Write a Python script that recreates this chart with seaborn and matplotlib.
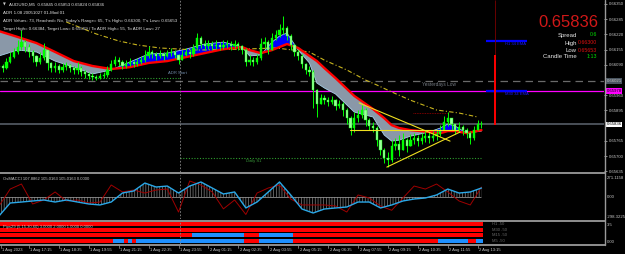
import matplotlib
matplotlib.use("Agg")
import numpy as np
import matplotlib.pyplot as plt
from matplotlib import font_manager as fm
from matplotlib.lines import Line2D
import seaborn as sns

# ---------------- data (prices in points: price * 1e5) ----------------
time_labels = ["1 Aug 2023", "1 Aug 17:15", "1 Aug 18:35", "1 Aug 19:55", "1 Aug 21:15",
               "1 Aug 22:35", "1 Aug 23:55", "2 Aug 01:15", "2 Aug 02:35", "2 Aug 03:55",
               "2 Aug 05:15", "2 Aug 06:35", "2 Aug 07:55", "2 Aug 09:15", "2 Aug 10:35",
               "2 Aug 11:55", "2 Aug 13:15"]
label_bars = list(range(0, 129, 8))

first_open = 66080
close_pts = [66085, 66076, 66102, 66123, 66145, 66166, 66187, 66166, 66145, 66128,
             66102, 66119, 66153, 66098, 66076, 66085, 66068, 66080, 66089, 66076,
             66068, 66076, 66059, 66051, 66042, 66038, 66033, 66042, 66046, 66068,
             66093, 66110, 66102, 66085, 66093, 66102, 66093, 66102, 66110, 66128,
             66145, 66136, 66128, 66136, 66128, 66140, 66145, 66132, 66110, 66132,
             66145, 66136, 66162, 66205, 66179, 66170, 66179, 66170, 66175, 66166,
             66175, 66179, 66170, 66179, 66170, 66153, 66102, 66110, 66102, 66119,
             66179, 66187, 66153, 66205, 66217, 66239, 66247, 66213, 66175, 66145,
             66128, 66093, 66068, 66059, 65982, 65922, 65948, 65939, 65931, 65939,
             65914, 65922, 65897, 65862, 65820, 65862, 65875, 65897, 65854, 65828,
             65820, 65768, 65726, 65691, 65683, 65743, 65751, 65726, 65768, 65743,
             65768, 65777, 65764, 65777, 65785, 65777, 65785, 65794, 65811, 65845,
             65862, 65837, 65811, 65824, 65811, 65798, 65777, 65811, 65837, 65836]
high_pts = [66110, 66093, 66119, 66145, 66162, 66196, 66239, 66196, 66179, 66153,
            66132, 66145, 66183, 66153, 66102, 66102, 66093, 66098, 66102, 66093,
            66085, 66102, 66085, 66068, 66059, 66055, 66046, 66055, 66059, 66085,
            66110, 66128, 66123, 66110, 66110, 66119, 66110, 66119, 66128, 66153,
            66170, 66153, 66145, 66153, 66145, 66153, 66162, 66153, 66136, 66153,
            66162, 66157, 66179, 66226, 66213, 66196, 66196, 66192, 66196, 66187,
            66196, 66196, 66192, 66196, 66187, 66175, 66162, 66132, 66123, 66136,
            66205, 66209, 66196, 66226, 66239, 66264, 66300, 66256, 66222, 66179,
            66153, 66136, 66098, 66085, 66068, 65986, 65965, 65961, 65952, 65957,
            65944, 65939, 65931, 65905, 65871, 65888, 65897, 65918, 65905, 65862,
            65845, 65828, 65768, 65734, 65717, 65768, 65777, 65790, 65798, 65777,
            65794, 65798, 65790, 65798, 65807, 65803, 65807, 65815, 65832, 65871,
            65888, 65862, 65837, 65845, 65832, 65820, 65807, 65828, 65854, 65850]
low_pts = [66068, 66059, 66072, 66098, 66119, 66136, 66153, 66145, 66123, 66102,
           66085, 66093, 66110, 66068, 66059, 66059, 66055, 66059, 66068, 66059,
           66051, 66051, 66042, 66033, 66029, 66025, 66025, 66029, 66033, 66038,
           66063, 66085, 66085, 66072, 66076, 66085, 66080, 66085, 66093, 66102,
           66119, 66119, 66110, 66119, 66110, 66123, 66128, 66119, 66093, 66110,
           66128, 66119, 66128, 66153, 66162, 66153, 66157, 66153, 66157, 66153,
           66157, 66162, 66153, 66162, 66153, 66136, 66085, 66089, 66085, 66093,
           66110, 66162, 66136, 66153, 66196, 66209, 66222, 66196, 66153, 66128,
           66110, 66076, 66051, 66042, 65905, 65867, 65922, 65922, 65914, 65922,
           65897, 65905, 65871, 65837, 65790, 65803, 65845, 65862, 65828, 65811,
           65803, 65743, 65704, 65670, 65653, 65676, 65726, 65700, 65726, 65717,
           65743, 65751, 65743, 65751, 65760, 65756, 65764, 65768, 65785, 65811,
           65828, 65811, 65794, 65803, 65790, 65777, 65751, 65768, 65811, 65820]

ribbon_bars = [0, 5, 10, 15, 20, 25, 30, 35, 40, 45, 50, 55, 60, 65, 67, 70, 73, 75, 77, 80,
               83, 85, 87, 90, 95, 100, 103, 105, 107, 110, 115, 118, 120, 122, 125, 129]
ma_slow_pts = [66234, 66209, 66183, 66145, 66106, 66085, 66072, 66080, 66098, 66106,
               66123, 66140, 66157, 66166, 66153, 66140, 66153, 66166, 66179, 66162,
               66128, 66106, 66076, 66033, 65957, 65901, 65862, 65832, 65820, 65811,
               65803, 65798, 65807, 65807, 65798, 65811]
ma_fast_pts = [66128, 66153, 66145, 66106, 66080, 66051, 66068, 66102, 66136, 66140,
               66157, 66179, 66187, 66166, 66128, 66132, 66187, 66213, 66226, 66153,
               66098, 66012, 65991, 65965, 65888, 65867, 65790, 65764, 65768, 65785,
               65803, 65820, 65837, 65828, 65798, 65807]

ma_long_bars = [18, 26, 32, 37, 43, 53, 65, 74, 83, 87, 93, 98, 101, 105, 110, 117, 123, 128]
ma_long_pts = [66273, 66222, 66192, 66175, 66162, 66153, 66157, 66162, 66145, 66110,
               66068, 66025, 66004, 65974, 65939, 65897, 65884, 65867]

# trend lines: (bar0, price0, bar1, price1)
trend_lines = [(96.3, 0.65927, 120.6, 0.65764),
               (93.9, 0.65811, 122.7, 0.65811),
               (103.7, 0.65653, 123.3, 0.65803)]

yesterday_low = 0.66021
magenta_level = 0.65978
current_price = 0.65836
adr_start = 0.66033
daily_s1 = 0.65691
h1_ema = 0.66192
m30_ema = 0.65980
adr_bar = (0.65832, 0.66132)
red_dotted = 0.65884

price_ticks = [0.66350, 0.66285, 0.66220, 0.66155, 0.66090, 0.65960,
               0.65895, 0.65765, 0.65700, 0.65635]

cci_bars = list(range(0, 130, 3))
cci_main = [-272, -86, -72, -57, -43, -72, -43, -72, -100, -114,
            -72, 57, 86, 200, 143, 157, 57, 157, 215, 129,
            43, 72, -157, -72, 72, 215, 29, -172, -229, -172,
            -157, -143, -72, -72, -157, -114, -57, -29, -14, 29,
            114, 57, 72, 129]
cci_signal = [-129, 114, 186, -100, -43, 72, -57, -43, -86, -72,
              172, 72, 100, 57, 100, 114, -215, 229, 171, 72,
              -170, -43, -250, 57, 129, 171, -29, -114, -114, -114,
              -129, -215, 29, -14, -129, -190, -14, 157, 114, 186,
              72, -57, -114, 143]

pip_rows = ["H1 -50", "M30 -50", "M15 -50", "M5 -50"]
pip_blue = {"H1 -50": [], "M30 -50": [],
            "M15 -50": [(52, 65), (70, 78)],
            "M5 -50": [(31, 33), (35, 35), (37, 60), (61, 65), (70, 78), (118, 125), (128, 129)]}

header_lines = ["AUDUSD,M5  0.65845 0.65853 0.65824 0.65836",
                "ADR 1.08 20051027 01-Mod 01",
                "ADR Values: 73, Reached= No, Today's Range= 65, T's High= 0.66300, T's Low= 0.65653",
                "Target High= 0.66384, Target Low= 0.65569 / To ADR High= 55, To ADR Low= 27"]
info_labels = ["Spread", "High", "Low", "Candle Time"]
info_values = ["0.6", "0.66300", "0.65653", "1:13"]

# ---------------- style ----------------
sns.set_theme(style="dark", rc={"axes.facecolor": "black", "figure.facecolor": "black"})
names = {f.name for f in fm.fontManager.ttflist}
FONT = "Liberation Sans Narrow" if "Liberation Sans Narrow" in names else "Liberation Sans"
NARROW = FONT.endswith("Narrow")
plt.rcParams["font.family"] = [FONT, "DejaVu Sans"]
plt.rcParams["hatch.linewidth"] = 0.5
FS = 3.5 if NARROW else 3.0
TXT = "#c8c8c8"

W, H = 625, 254
fig = plt.figure(figsize=(W / 100, H / 100), dpi=100)
fig.patch.set_facecolor("black")


def fx(x):
    return x / W


def fy(y):
    return 1 - y / H


def add_ax(x0, y0, x1, y1):
    a = fig.add_axes([x0 / W, 1 - y1 / H, (x1 - x0) / W, (y1 - y0) / H])
    a.set_facecolor("black")
    for s in a.spines.values():
        s.set_visible(False)
    a.grid(False)
    return a


ax = add_ax(0, 0, 604, 172)
ax_cci = add_ax(0, 175, 604, 219)
ax_pip = add_ax(0, 222, 604, 244)
XL = (0.27, 161.76)

# ---------------- main chart ----------------
n = len(close_pts)
idx = np.arange(n)
c = np.array(close_pts) / 1e5
o = np.r_[first_open, close_pts[:-1]] / 1e5
hi = np.maximum(np.array(high_pts) / 1e5, np.maximum(o, c))
lo = np.minimum(np.array(low_pts) / 1e5, np.minimum(o, c))

rx = np.array(ribbon_bars)
slow = np.array(ma_slow_pts) / 1e5
fast = np.array(ma_fast_pts) / 1e5
ax.fill_between(rx, slow, fast, where=fast <= slow, interpolate=True, color="#8a98a8", lw=0, zorder=2)
ax.fill_between(rx, slow, fast, where=fast >= slow, interpolate=True, color="#0000ff", lw=0, zorder=2)
sns.lineplot(x=rx, y=fast, ax=ax, color="#a8d0e8", lw=0.6, zorder=3, legend=False)
sns.lineplot(x=rx, y=slow, ax=ax, color="#ff0000", lw=1.7, zorder=5, legend=False)

# horizontal levels
ax.axhline(yesterday_low, color="#6a6a6a", lw=0.9, dashes=(6, 4), zorder=1)
ax.axhline(magenta_level, color="#ff00ff", lw=0.9, zorder=1)
ax.axhline(current_price, color="#4a5058", lw=1.4, zorder=1)
ax.hlines(adr_start, XL[0], 48.5, color="#2e9e2e", lw=0.8, linestyles=(0, (1, 1.5)), zorder=1)
ax.hlines(daily_s1, 48.5, 129, color="#2e9e2e", lw=0.8, linestyles=(0, (1, 1.5)), zorder=1)
ax.hlines(red_dotted, 110.7, 119.8, color="#a00000", lw=0.6, linestyles=(0, (1, 1)), zorder=1)
ax.hlines(h1_ema, 130.2, 141.2, color="#0000ff", lw=1.6, zorder=4)
ax.hlines(m30_ema, 130.2, 141.2, color="#0000ff", lw=1.6, zorder=4)
ax.vlines(132.6, adr_bar[1], 0.66367, color="#7a0000", lw=0.6, zorder=4)
ax.vlines(132.6, adr_bar[0], adr_bar[1], color="#ff0000", lw=1.4, zorder=4)

# long MA dash-dot
sns.lineplot(x=ma_long_bars, y=np.array(ma_long_pts) / 1e5, ax=ax, color="#c8b41e", lw=0.8,
             zorder=4, legend=False)
ax.lines[-1].set_dashes((4, 2, 1, 2))

# candles
ax.vlines(idx, lo, hi, color="#00ff00", lw=0.7, zorder=6)
body = c - o
body = np.where(np.abs(body) < 0.000015, np.where(body >= 0, 0.000015, -0.000015), body)
up = c >= o
ax.bar(idx[up], body[up], bottom=o[up], width=0.6, color="#00ff00", edgecolor="#00ff00",
       lw=0.3, zorder=7)
ax.bar(idx[~up], body[~up], bottom=o[~up], width=0.6, color="#9cff9c", edgecolor="#00ff00",
       lw=0.3, zorder=7)

for b0, p0, b1, p1 in trend_lines:
    ax.plot([b0, b1], [p0, p1], color="#f0e020", lw=0.8, zorder=8)

# labels inside chart
ax.text(45.2, adr_start + 0.00022, "ADR Start", color="#6f8aa8", fontsize=FS, va="center", ha="left")
ax.text(66.0, daily_s1 - 0.00013, "Daily S1", color="#3a9a3a", fontsize=FS, va="center", ha="left")
ax.text(113.1, yesterday_low - 0.00017, "Yesterdays Low", color="#787e86", fontsize=FS + 0.4,
        va="center", ha="left")
ax.text(135.3, h1_ema - 0.00013, "H1 34 EMA", color="#1a1aff", fontsize=FS, va="center", ha="left")
ax.text(135.3, m30_ema - 0.00016, "M30 34 EMA", color="#1a1aff", fontsize=FS, va="center", ha="left")

ax.set_xlim(*XL)
ax.set_ylim(0.65632, 0.66367)
ax.set_xlabel("")
ax.set_ylabel("")
ax.set_xticks([])
ax.yaxis.tick_right()
ax.set_yticks(price_ticks)
ax.set_yticklabels([f"{p:.5f}" for p in price_ticks])
ax.tick_params(axis="y", right=True, left=False, length=2, width=0.5, pad=1.5,
               labelsize=FS + 0.1, colors=TXT)
box_kw = dict(transform=ax.get_yaxis_transform(), fontsize=FS + 0.1, va="center", ha="left", zorder=10)
ax.text(1.004, yesterday_low, f"{yesterday_low:.5f}", color=TXT,
        bbox=dict(boxstyle="square,pad=0.15", fc="#4a5560", ec="none"), **box_kw)
ax.text(1.004, magenta_level, f"{magenta_level:.5f}", color="black",
        bbox=dict(boxstyle="square,pad=0.15", fc="#ff00ff", ec="none"), **box_kw)
ax.text(1.004, current_price, f"{current_price:.5f}", color="black",
        bbox=dict(boxstyle="square,pad=0.15", fc="white", ec="none"), **box_kw)

# ---------------- CCI panel ----------------
cx = np.array(cci_bars)
cm = np.array(cci_main, dtype=float)
cs = np.array(cci_signal, dtype=float)
ax_cci.fill_between(cx, 0, cm, facecolor="none", edgecolor="#808080", hatch="||||||", lw=0, zorder=1)
ax_cci.hlines(0, XL[0], 129, color="#909090", lw=0.6, zorder=2)
sns.lineplot(x=cx, y=cs, ax=ax_cci, color="#a00000", lw=0.7, zorder=3, legend=False)
sns.lineplot(x=cx, y=cm, ax=ax_cci, color="#2aa8e8", lw=1.0, zorder=4, legend=False)
ax_cci.set_xlim(*XL)
ax_cci.set_ylim(-315, 315)
ax_cci.set_xlabel("")
ax_cci.set_ylabel("")
ax_cci.set_xticks([])
ax_cci.set_yticks([])
ax_cci.text(0.005, 0.9, "OsMACCI 107.8862 105.0163 105.0163 0.0000", transform=ax_cci.transAxes,
            color=TXT, fontsize=FS, va="center", ha="left")

# ---------------- Pips panel ----------------
row_val = {"H1 -50": 3, "M30 -50": 2, "M15 -50": 1, "M5 -50": 0}
for name in pip_rows:
    v = row_val[name]
    ax_pip.broken_barh([(-0.5, n)], (v - 0.36, 0.72), facecolors="#ff0000", lw=0)
    segs = [(s - 0.5, e - s + 1) for s, e in pip_blue[name]]
    if segs:
        ax_pip.broken_barh(segs, (v - 0.36, 0.72), facecolors="#1e90ff", lw=0)
    ax_pip.text(131.7, v, name, color="#6a6a6a", fontsize=FS, va="center", ha="left")
ax_pip.set_xlim(*XL)
ax_pip.set_ylim(-0.54, 3.36)
ax_pip.set_xticks([])
ax_pip.set_yticks([])
ax_pip.text(0.005, 2.5, "Pips29 (5,15,30,60) 3.0000 2.0000 1.0000 0.0000",
            transform=ax_pip.get_yaxis_transform(),
            color=TXT, fontsize=FS, va="center", ha="left", zorder=5)

# day separator
for a in (ax, ax_cci, ax_pip):
    a.axvline(48.5, color="#8a8a8a", lw=0.6, ls=(0, (2, 2)), zorder=1)

# ---------------- frame lines ----------------
fcol = "#9a9a9a"
for yy in (173.2, 220.5, 244.6):
    fig.add_artist(Line2D([0, fx(604.5)], [fy(yy), fy(yy)], color=fcol, lw=1.3))
fig.add_artist(Line2D([fx(604.5), fx(604.5)], [fy(0), fy(245)], color=fcol, lw=1.0))

# right labels of lower panels
for yy, s in ((178, "271.1158"), (197, "0.00"), (217, "-298.3225"), (225, "3.5"), (242, "0.00")):
    fig.text(fx(606.5), fy(yy), s, color=TXT, fontsize=FS + 0.1, va="center", ha="left")

# time axis
for b, lab in zip(label_bars, time_labels):
    px = (b - XL[0]) / (XL[1] - XL[0]) * 604
    px = max(px, 1.0)
    fig.add_artist(Line2D([fx(px), fx(px)], [fy(244.6), fy(248)], color=fcol, lw=0.5))
    fig.text(fx(px + 1.5), fy(249.5), lab, color=TXT, fontsize=FS, va="center", ha="left")

# ---------------- header texts ----------------
fig.text(fx(2.5), fy(5), "\u25bc", color=TXT, fontsize=2.6, va="center", ha="left",
         family=["DejaVu Sans"])
for i, line in enumerate(header_lines):
    fig.text(fx(9 if i == 0 else 3), fy(5 + 8 * i), line, color="#e0e0e0", fontsize=FS + 0.2,
             va="center", ha="left")

fig.text(fx(598), fy(22.5), f"{current_price:.5f}", color="#d01818",
         fontsize=14.5 if NARROW else 12, va="center", ha="right")
info_y = [35, 43, 50, 57]
info_col = ["#00e000", "#e01010", "#e01010", "#00e000"]
for lab, val, yy, col in zip(info_labels, info_values, info_y, info_col):
    fig.text(fx(577), fy(yy), lab, color="#e8e8e8", fontsize=FS + 1.3, va="center", ha="right")
    fig.text(fx(597.5), fy(yy), val, color=col, fontsize=FS + 0.8, va="center", ha="right")

fig.savefig("out.png", dpi=100, facecolor="black")
